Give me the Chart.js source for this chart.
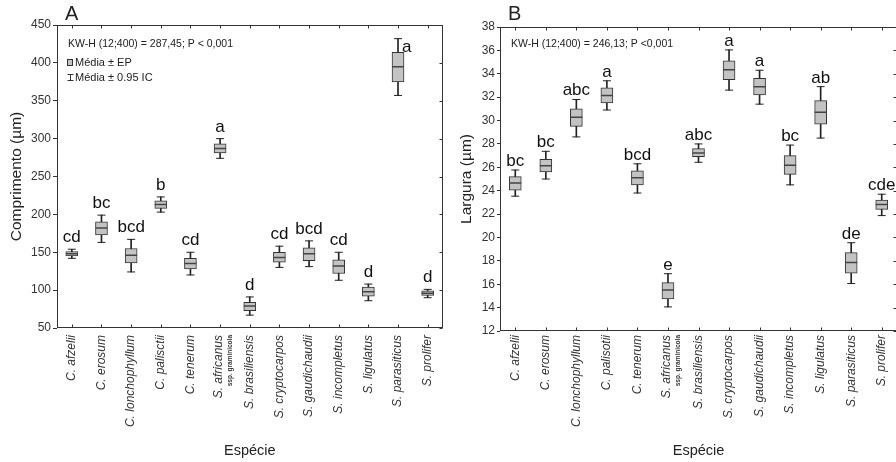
<!DOCTYPE html>
<html><head><meta charset="utf-8">
<script src="https://cdn.jsdelivr.net/npm/chart.js@4/dist/chart.umd.min.js"></script>
<style>
html,body{margin:0;padding:0;background:#fff;width:896px;height:462px;overflow:hidden;position:relative}
#ca{position:absolute;left:0;top:0}
#cb{position:absolute;left:450px;top:0}
</style></head><body>
<canvas id="ca" width="450" height="462"></canvas>
<canvas id="cb" width="460" height="462"></canvas>
<script>
// ---------- data ----------
const speciesA = ['C. afzelii','C. erosum','C. lonchophyllum','C. palisctii','C. tenerum','S. africanus','S. brasiliensis','S. cryptocarpos','S. gaudichaudii','S. incompletus','S. ligulatus','S. parasiticus','S. prolifer'];
const speciesB = ['C. afzelii','C. erosum','C. lonchophyllum','C. palisotii','C. tenerum','S. africanus','S. brasiliensis','S. cryptocarpos','S. gaudichaudii','S. incompletus','S. ligulatus','S. parasiticus','S. prolifer'];
const subLabels = ['','','','','','ssp. graminicola','','','','','','',''];

// Panel A: Comprimento (µm)
const meanA   = [148, 182, 146, 213, 135, 287, 79, 143, 148, 132, 98, 395, 96];
const epLowA  = [145, 173, 136, 208, 128, 281, 73, 137, 139, 122, 92, 375, 93];
const epHighA = [151, 190, 155, 218, 142, 293, 84, 150, 156, 140, 104, 414, 99];
const icLowA  = [142, 163, 124, 203, 120, 274, 67, 130, 131, 113, 86, 357, 90];
const icHighA = [154, 199, 167, 223, 150, 300, 91, 158, 165, 150, 108, 432, 101];
const lettersA = ['cd','bc','bcd','b','cd','a','d','cd','bcd','cd','d','a','d'];
const yTicksA = [50,100,150,200,250,300,350,400,450];

// Panel B: Largura (µm)
const meanB   = [24.66, 26.14, 30.28, 32.14, 25.1, 15.5, 27.23, 34.34, 32.9, 26.17, 30.7, 17.85, 22.82];
const epLowB  = [24.05, 25.6, 29.5, 31.5, 24.5, 14.75, 26.9, 33.5, 32.2, 25.4, 29.7, 16.95, 22.4];
const epHighB = [25.2, 26.68, 31.0, 32.8, 25.7, 16.14, 27.6, 35.1, 33.6, 27.0, 31.7, 18.7, 23.2];
const icLowB  = [23.53, 25.0, 28.6, 30.9, 23.8, 14.06, 26.43, 32.6, 31.4, 24.5, 28.5, 16.06, 21.87];
const icHighB = [25.77, 27.37, 31.8, 33.4, 26.3, 16.9, 28.0, 36.04, 34.3, 27.9, 32.9, 19.55, 23.7];
const lettersB = ['bc','bc','abc','a','bcd','e','abc','a','a','bc','ab','de','cde'];
const yTicksB = [12,14,16,18,20,22,24,26,28,30,32,34,36,38];

const statA = 'KW-H (12;400) = 287,45; P < 0,001';
const statB = 'KW-H (12;400) = 246,13; P <0,001';
const legendEP = 'Média ± EP';
const legendIC = 'Média ± 0.95 IC';

// ---------- styling ----------
const FONT = '"Liberation Sans", Arial, Helvetica, sans-serif';
const INK = '#222';
const BOX_FILL = '#c3c3c3';

function panelPlugin(p) {
  return {
    id: 'panel' + p.tag,
    afterDatasetsDraw(chart) {
      const ctx = chart.ctx, ca = chart.chartArea;
      const xs = chart.scales.x, ys = chart.scales.y;
      ctx.save();
      // frame
      ctx.strokeStyle = '#333'; ctx.lineWidth = 1;
      const L = Math.round(ca.left) + 0.5, R = Math.round(ca.right) - 0.5;
      const T = Math.round(ca.top) + 0.5, B = Math.round(ca.bottom) - 0.5;
      ctx.strokeRect(L, T, R - L, B - T);
      ctx.beginPath();
      p.labels.forEach((_, i) => {
        const px = Math.round(xs.getPixelForValue(i)) + 0.5;
        ctx.moveTo(px, T); ctx.lineTo(px, T + 3);
        ctx.moveTo(px, B); ctx.lineTo(px, B - 3);
      });
      ys.ticks.forEach(t => {
        const py = Math.round(ys.getPixelForValue(t.value)) + 0.5;
        ctx.moveTo(R, py); ctx.lineTo(R - 3, py);
      });
      ctx.stroke();

      // significance letters
      ctx.fillStyle = '#111';
      ctx.font = '17px ' + FONT;
      ctx.textBaseline = 'alphabetic';
      p.letters.forEach((s, i) => {
        const px = xs.getPixelForValue(i);
        const py = ys.getPixelForValue(p.icHigh[i]);
        if (py - p.gap - 13 < ca.top) {
          ctx.textAlign = 'left';
          ctx.fillText(s, px + 4, py + 13);
        } else {
          ctx.textAlign = 'center';
          ctx.fillText(s, px, py - p.gap);
        }
      });

      // category labels (rotated)
      ctx.fillStyle = '#333';
      p.labels.forEach((s, i) => {
        const px = xs.getPixelForValue(i);
        const top = ca.bottom + p.labelGap;
        ctx.save();
        ctx.textAlign = 'right'; ctx.textBaseline = 'middle';
        if (p.sub[i]) {
          ctx.translate(px - 1.5, top); ctx.rotate(-Math.PI / 2);
          ctx.font = 'italic 12px ' + FONT;
          ctx.fillText(s, 0, 0);
          ctx.restore(); ctx.save();
          ctx.textAlign = 'right'; ctx.textBaseline = 'middle';
          ctx.translate(px + 10, top); ctx.rotate(-Math.PI / 2);
          ctx.font = 'bold 6.5px ' + FONT;
          ctx.fillText(p.sub[i], 0, 0);
        } else {
          ctx.translate(px, top); ctx.rotate(-Math.PI / 2);
          ctx.font = 'italic 12px ' + FONT;
          ctx.fillText(s, 0, 0);
        }
        ctx.restore();
      });

      // x-axis title
      ctx.fillStyle = INK;
      ctx.font = '14.5px ' + FONT;
      ctx.textAlign = 'center'; ctx.textBaseline = 'alphabetic';
      ctx.fillText('Espécie', (ca.left + ca.right) / 2, 455);

      // panel letter
      ctx.font = '20px ' + FONT;
      ctx.textAlign = 'left';
      ctx.fillText(p.tag, ca.left + 8, 20);

      // statistics note
      ctx.font = '10.5px ' + FONT;
      ctx.fillText(p.stat, ca.left + 11, 47);

      if (p.legend) {
        const lx = ca.left + 11;
        ctx.fillStyle = BOX_FILL; ctx.strokeStyle = '#333';
        ctx.fillRect(lx - 0.5, 59.5, 5, 6);
        ctx.strokeRect(lx - 0.5, 59.5, 5, 6);
        ctx.beginPath();
        ctx.moveTo(lx - 0.5, 74.5); ctx.lineTo(lx + 5.5, 74.5);
        ctx.moveTo(lx + 2.5, 74.5); ctx.lineTo(lx + 2.5, 80.5);
        ctx.moveTo(lx - 0.5, 80.5); ctx.lineTo(lx + 5.5, 80.5);
        ctx.stroke();
        ctx.fillStyle = INK;
        ctx.font = '11px ' + FONT;
        ctx.fillText(legendEP, lx + 7, 66);
        ctx.fillText(legendIC, lx + 7, 81);
      }
      ctx.restore();
    }
  };
}

function buildChart(id, p) {
  return new Chart(document.getElementById(id), {
    type: 'bar',
    data: {
      labels: p.labels,
      datasets: [
        { type: 'line', label: 'mean', data: p.mean, showLine: false, pointStyle: 'line',
          pointRadius: 6, pointHoverRadius: 6, pointBorderWidth: 1.5, pointBorderColor: '#444', order: 0 },
        { type: 'line', label: 'capHigh', data: p.icHigh, showLine: false, pointStyle: 'line',
          pointRadius: 4, pointHoverRadius: 4, pointBorderWidth: 1, pointBorderColor: INK, order: 1 },
        { type: 'line', label: 'capLow', data: p.icLow, showLine: false, pointStyle: 'line',
          pointRadius: 4, pointHoverRadius: 4, pointBorderWidth: 1, pointBorderColor: INK, order: 1 },
        { type: 'bar', label: 'EP', data: p.epLow.map((v, i) => [v, p.epHigh[i]]),
          backgroundColor: BOX_FILL, borderColor: '#333', borderWidth: 1, borderSkipped: false,
          barThickness: 12, grouped: false, order: 2 },
        { type: 'bar', label: 'IC', data: p.icLow.map((v, i) => [v, p.icHigh[i]]),
          backgroundColor: INK, borderWidth: 0, barThickness: 1, grouped: false, order: 3 }
      ]
    },
    options: {
      responsive: false, animation: false, events: [],
      layout: { padding: { left: 0, right: p.padR, top: p.padT, bottom: p.padB } },
      plugins: { legend: { display: false }, tooltip: { enabled: false } },
      scales: {
        x: { type: 'category', offset: true,
             ticks: { display: false }, grid: { display: false }, border: { display: false },
             afterFit: s => { s.height = 0; } },
        y: { type: 'linear', min: p.yTicks[0], max: p.yTicks[p.yTicks.length - 1],
             afterBuildTicks: s => { s.ticks = p.yTicks.map(v => ({ value: v })); },
             afterFit: s => { s.width = p.yWidth; },
             ticks: { color: '#333', padding: 2, font: { family: FONT, size: 12 } },
             grid: { display: true, drawOnChartArea: false, drawTicks: true, tickLength: p.tickLen,
                     tickColor: '#333', tickWidth: 1 },
             border: { display: false },
             title: { display: true, text: p.yTitle, color: INK, padding: { top: 7, bottom: 0 },
                      font: { family: FONT, size: 15.5 } } }
      }
    },
    plugins: [panelPlugin(p)]
  });
}

buildChart('ca', {
  tag: 'A', labels: speciesA, sub: subLabels, mean: meanA, epLow: epLowA, epHigh: epHighA,
  icLow: icLowA, icHigh: icHighA, letters: lettersA, yTicks: yTicksA, yTitle: 'Comprimento (µm)',
  stat: statA, legend: true, gap: 7, labelGap: 7, tickLen: 4,
  yWidth: 57, padR: 4, padT: 25, padB: 134
});
buildChart('cb', {
  tag: 'B', labels: speciesB, sub: subLabels, mean: meanB, epLow: epLowB, epHigh: epHighB,
  icLow: icLowB, icHigh: icHighB, letters: lettersB, yTicks: yTicksB, yTitle: 'Largura (µm)',
  stat: statB, legend: false, gap: 4, labelGap: 4, tickLen: 3,
  yWidth: 50, padR: 13, padT: 27, padB: 131
});
</script>
</body></html>
